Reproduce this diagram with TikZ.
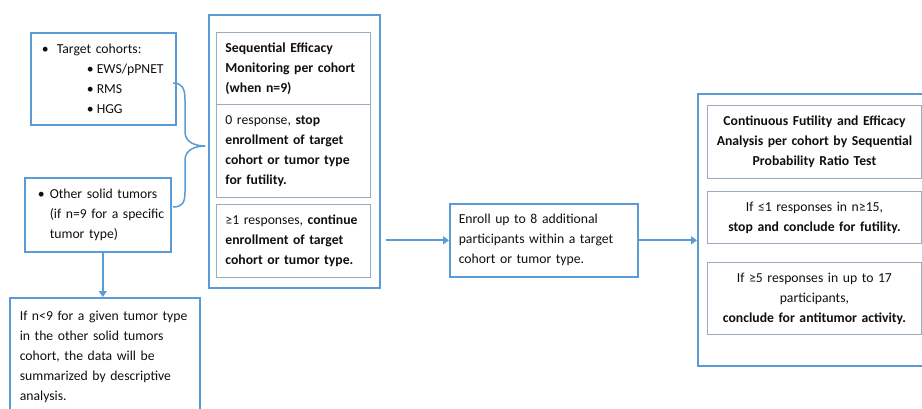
\documentclass[tikz,border=0pt]{standalone}
\usepackage{fontspec}
\setmainfont{Carlito}
\usetikzlibrary{arrows.meta}
\definecolor{boxblue}{RGB}{91,155,213}
\definecolor{innergray}{RGB}{155,172,190}
\definecolor{txt}{RGB}{15,15,15}
\tikzset{
  outerbox/.style={draw=boxblue, line width=1.6pt, anchor=north west, inner sep=0pt, text=txt,
    font=\fontsize{13.7}{20}\selectfont},
  innerbox/.style={draw=innergray, line width=0.9pt, anchor=north west, inner ysep=0pt, text=txt,
    font=\fontsize{13.7}{20}\selectfont},
  flowarrow/.style={draw=boxblue, line width=2pt, -{Triangle[length=6pt,width=8pt]}},
  bracestyle/.style={draw=boxblue, line width=1.5pt}
}
\newcommand{\bul}[1]{\makebox[#1][l]{\textbullet}}
\begin{document}
\begin{tikzpicture}[x=1pt,y=-1pt]
\useasboundingbox (0,0) rectangle (922,408);
% left boxes
\node[outerbox, inner xsep=11pt, text width=123pt, minimum height=92pt, align=left] (target) at (30,32)
  {\bul{15pt}Target cohorts:\\\hspace*{45pt}\bul{10pt}EWS/pPNET\\\hspace*{45pt}\bul{10pt}RMS\\\hspace*{45pt}\bul{10pt}HGG};
\node[outerbox, inner xsep=7pt, text width=132pt, minimum height=74pt, align=left] (other) at (24,177)
  {\mbox{\hspace*{6pt}\bul{12pt}Other solid tumors}\\\mbox{\hspace*{18pt}(if n=9 for a specific}\\\mbox{\hspace*{18pt}tumor type)}};
\node[outerbox, inner xsep=10pt, text width=170pt, minimum height=119pt, align=left] (bottom) at (9,297)
  {If n<9 for a given tumor type\\in the other solid tumors\\cohort, the data will be\\summarized by descriptive\\analysis.};
% middle box
\node[outerbox, minimum width=171pt, minimum height=273pt] (mid) at (208,14) {};
\node[innerbox, inner xsep=9pt, text width=136pt, minimum height=72pt, align=left] (seq) at (216,32)
  {\textbf{Sequential Efficacy}\\\textbf{Monitoring per cohort}\\\textbf{(when n=9)}};
\node[innerbox, inner xsep=9pt, text width=136pt, minimum height=93pt, align=left] (zero) at (216,104)
  {0 response, \textbf{stop}\\\textbf{enrollment of target}\\\textbf{cohort or tumor type}\\\textbf{for futility.}};
\node[innerbox, inner xsep=9pt, text width=136pt, minimum height=73pt, align=left] (one) at (216,204)
  {≥1 responses, \textbf{continue}\\\textbf{enrollment of target}\\\textbf{cohort or tumor type.}};
% enroll box
\node[outerbox, inner xsep=9pt, text width=170pt, minimum height=73pt, align=left] (enroll) at (449,203)
  {Enroll up to 8 additional\\participants within a target\\cohort or tumor type.};
% right box
\node[outerbox, minimum width=240pt, minimum height=272pt] (right) at (697,93) {};
\node[innerbox, inner xsep=4pt, text width=206pt, minimum height=73pt, align=center] (cont) at (707,105)
  {\textbf{Continuous Futility and Efficacy}\\\textbf{Analysis per cohort by Sequential}\\\textbf{Probability Ratio Test}};
\node[innerbox, inner xsep=4pt, text width=206pt, minimum height=52pt, align=center] (fut) at (707,191)
  {If ≤1 responses in n≥15,\\\textbf{stop and conclude for futility.}};
\node[innerbox, inner xsep=4pt, text width=206pt, minimum height=72pt, align=center] (act) at (707,262)
  {If ≥5 responses in up to 17\\participants,\\\textbf{conclude for antitumor activity.}};
% brace
\draw[bracestyle] (173,83) .. controls (182,83) and (185,88) .. (185,100) -- (185,132)
  .. controls (185,142) and (195,146) .. (205,146)
  .. controls (195,146) and (185,150) .. (185,160) -- (185,192)
  .. controls (185,203) and (182,207) .. (173,207);
% arrows
\draw[flowarrow] ([xshift=5pt]other.south) -- ([xshift=5pt]other.south |- bottom.north);
\draw[flowarrow, shorten <=5pt] (mid.east |- enroll.west) -- (enroll.west);
\draw[flowarrow] (enroll.east) -- (right.west |- enroll.east);
\end{tikzpicture}
\end{document}
